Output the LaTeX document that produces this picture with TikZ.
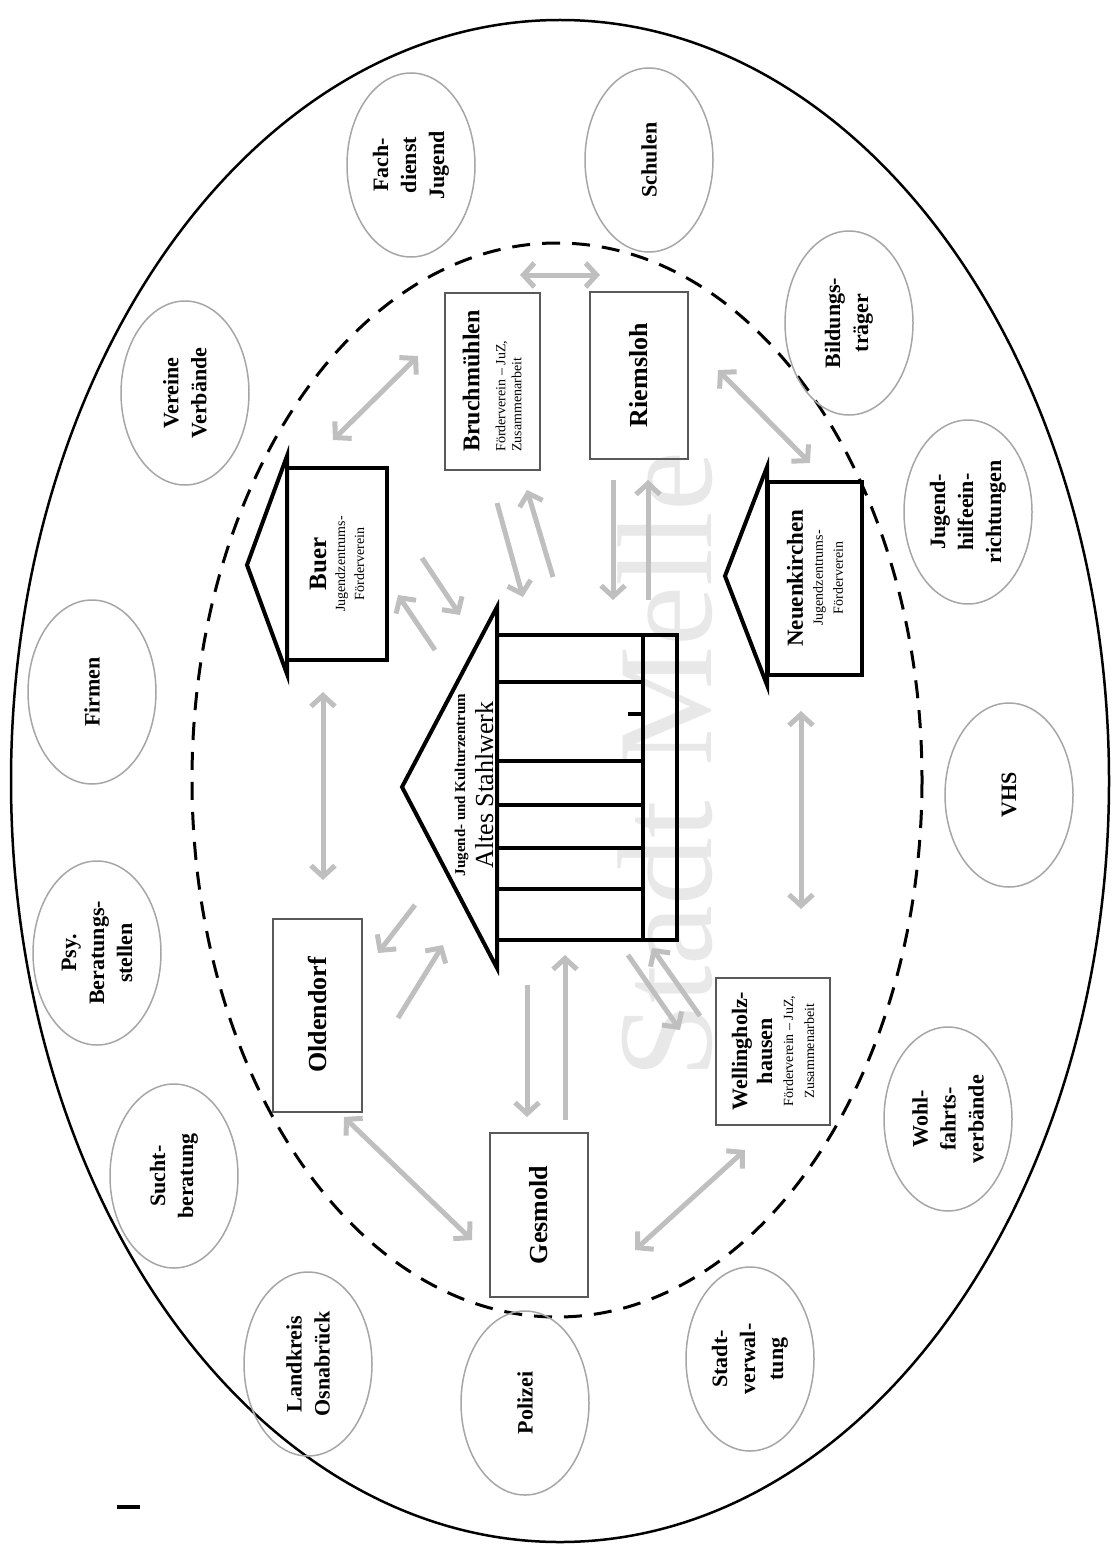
\documentclass[tikz,border=0pt]{standalone}
\usepackage{fontspec}
\setmainfont{Liberation Serif}
\usetikzlibrary{arrows.meta, shapes.geometric}

\newcommand{\klein}[1]{{\fontsize{14}{16}\selectfont\mdseries #1}}

\begin{document}
\begin{tikzpicture}[x=1pt, y=-1pt, >={Straight Barb[length=11pt,width=24pt]},
    partner/.style={ellipse, draw=gray!70, line width=1.5pt, rotate=90,
        minimum width=184pt, minimum height=128pt, inner sep=0pt, align=center,
        font=\fontsize{22}{28}\selectfont\bfseries},
    ort/.style={draw=black!65, line width=2pt, rotate=90, align=center,
        inner sep=0pt, font=\fontsize{26}{30}\selectfont\bfseries},
    haus/.style={draw, line width=4pt, rotate=90, align=center,
        inner sep=0pt, font=\fontsize{25}{19}\selectfont\bfseries},
    link/.style={<->, gray!50, line width=5pt},
    pfeil/.style={->, gray!50, line width=5pt}]

\useasboundingbox (0,0) rectangle (1112,1549);

% Wasserzeichen
\node[rotate=90, text=gray!18, font=\fontsize{135}{135}\selectfont] (melle) at (665,765) {Stadt Melle};

% Rahmen
\draw[line width=2.5pt] (560,781) ellipse [x radius=549, y radius=761];
\draw[line width=3pt, dash pattern=on 18pt off 12pt] (557,780) ellipse [x radius=365, y radius=537];

% Partner
\node[partner] (vereine) at (185,393) {Vereine\\Verbände};
\node[partner] (fach) at (411,165) {Fach-\\dienst\\Jugend};
\node[partner] (schulen) at (649,160) {Schulen};
\node[partner] (bildung) at (849,323) {Bildungs-\\träger};
\node[partner] (jhilfe) at (968,512) {Jugend-\\hilfeein-\\richtungen};
\node[partner] (vhs) at (1009,795) {VHS};
\node[partner] (wohl) at (948,1119) {Wohl-\\fahrts-\\verbände};
\node[partner] (verwaltung) at (750,1359) {Stadt-\\verwal-\\tung};
\node[partner] (polizei) at (525,1403) {Polizei};
\node[partner] (landkreis) at (308,1364) {Landkreis\\Osnabrück};
\node[partner] (sucht) at (174,1176) {Sucht-\\beratung};
\node[partner] (psy) at (97,953) {Psy.\\Beratungs-\\stellen};
\node[partner] (firmen) at (92,692) {Firmen};

% Ortsteile
\node[ort, minimum width=177pt, minimum height=95pt, align=left,
    font=\fontsize{24}{16}\selectfont\bfseries] (bruch) at (492,381)
    {Bruchmühlen\\[10pt] \klein{Förderverein – JuZ,}\\ \klein{Zusammenarbeit}};
\node[ort, minimum width=167pt, minimum height=98pt] (riems) at (639,375) {Riemsloh};
\node[ort, minimum width=193pt, minimum height=89pt] (olden) at (317,1015) {Oldendorf};
\node[ort, minimum width=164pt, minimum height=98pt] (gesmold) at (539,1215) {Gesmold};
\node[ort, minimum width=147pt, minimum height=114pt,
    font=\fontsize{22}{21}\selectfont\bfseries] (welling) at (773,1051)
    {Wellingholz-\\[4pt] hausen\\ \klein{Förderverein – JuZ,}\\ \klein{Zusammenarbeit}};

% Haeuser
\node[haus, minimum width=192pt, minimum height=100pt] (buer) at (337,564)
    {Buer\\ \klein{Jugendzentrums-}\\ \klein{Förderverein}};
\draw[line width=4pt, line join=miter] (287,456) -- (247,565) -- (287,674) -- cycle;
\node[haus, minimum width=193pt, minimum height=94pt, font=\fontsize{23}{20}\selectfont\bfseries] (neuen) at (815,578)
    {Neuenkirchen\\ \klein{Jugendzentrums-}\\ \klein{Förderverein}};
\draw[line width=4pt, line join=miter] (767,467) -- (725,576) -- (767,685) -- cycle;

% Altes Stahlwerk
\draw[line width=4pt, line join=miter] (497,607) -- (402,787) -- (497,968) -- cycle;
\draw[line width=4pt] (497,635) rectangle (677,940);
\draw[line width=4pt] (643,635) -- (643,940);
\foreach \yy in {682,761,805,848,889}
    \draw[line width=4pt] (497,\yy) -- (643,\yy);
\draw[line width=4pt] (628,714) -- (643,714);
\node[rotate=90, align=center, font=\fontsize{26}{28}\selectfont] (zentrum) at (474,785)
    {{\fontsize{15}{16}\selectfont\bfseries Jugend- und Kulturzentrum}\\ Altes Stahlwerk};

% Pfeile
\coordinate (a1) at (323,692); \coordinate (a2) at (323,880);
\coordinate (b1) at (801,711); \coordinate (b2) at (801,909);
\coordinate (c1) at (333,440); \coordinate (c2) at (418,356);
\coordinate (d1) at (520,275); \coordinate (d2) at (600,275);
\coordinate (e1) at (718,370); \coordinate (e2) at (810,463);
\coordinate (f1) at (344,1117); \coordinate (f2) at (472,1240);
\coordinate (g1) at (635,1250); \coordinate (g2) at (745,1150);
\draw[link] (a1) -- (a2);
\draw[link] (b1) -- (b2);
\draw[link] (c1) -- (c2);
\draw[link] (d1) -- (d2);
\draw[link] (e1) -- (e2);
\draw[link] (f1) -- (f2);
\draw[link] (g1) -- (g2);

\coordinate (h1) at (435,650); \coordinate (h2) at (398,595);
\coordinate (h3) at (422,558); \coordinate (h4) at (460,615);
\coordinate (i1) at (553,577); \coordinate (i2) at (527,490);
\coordinate (i3) at (497,503); \coordinate (i4) at (523,597);
\coordinate (j1) at (613,480); \coordinate (j2) at (613,600);
\coordinate (j3) at (648,600); \coordinate (j4) at (648,480);
\coordinate (k1) at (415,905); \coordinate (k2) at (378,953);
\coordinate (k3) at (398,1018); \coordinate (k4) at (443,945);
\coordinate (l1) at (527,985); \coordinate (l2) at (527,1117);
\coordinate (l3) at (565,1120); \coordinate (l4) at (565,955);
\coordinate (m1) at (628,955); \coordinate (m2) at (680,1030);
\coordinate (m3) at (700,1016); \coordinate (m4) at (652,948);
\draw[pfeil] (h1) -- (h2);
\draw[pfeil] (h3) -- (h4);
\draw[pfeil] (i1) -- (i2);
\draw[pfeil] (i3) -- (i4);
\draw[pfeil] (j1) -- (j2);
\draw[pfeil] (j3) -- (j4);
\draw[pfeil] (k1) -- (k2);
\draw[pfeil] (k3) -- (k4);
\draw[pfeil] (l1) -- (l2);
\draw[pfeil] (l3) -- (l4);
\draw[pfeil] (m1) -- (m2);
\draw[pfeil] (m3) -- (m4);

% Randmarke
\draw[line width=4pt] (117,1507) -- (140,1507);
\end{tikzpicture}
\end{document}
